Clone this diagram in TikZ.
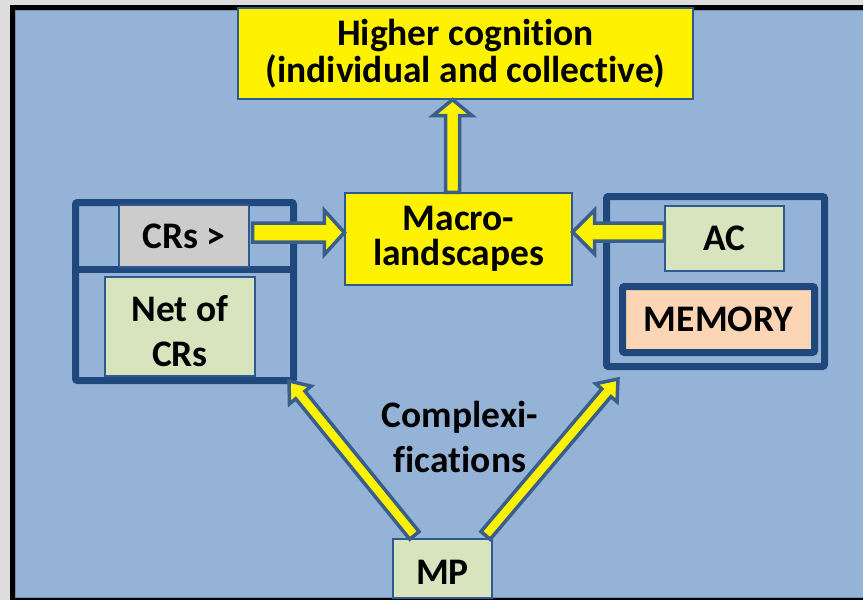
\documentclass[tikz,border=0pt]{standalone}
\usepackage{fontspec}
\setmainfont{Carlito}[Ligatures=NoCommon]
\usetikzlibrary{calc}
\definecolor{outgray}{HTML}{DDDDDD}
\definecolor{panel}{HTML}{95B3D7}
\definecolor{panelline}{HTML}{6E8DB5}
\definecolor{navy}{HTML}{1F497D}
\definecolor{boxline}{HTML}{2F5A8E}
\definecolor{arrowblue}{HTML}{3A5E8C}
\definecolor{crgray}{HTML}{CCCCCC}
\definecolor{lgreen}{HTML}{D7E4BD}
\definecolor{peach}{HTML}{FCD5B5}
\tikzset{
  txt/.style={font=\bfseries\fontsize{37.5}{38}\selectfont, align=center, text=black},
  box/.style={txt, draw=boxline, line width=1.2pt, inner sep=0pt},
  container/.style={draw=navy, line width=7pt, rounded corners=2pt, inner sep=0pt},
  blockarrow/.style n args={3}{draw=arrowblue, fill=yellow, line width=3.5pt, line join=miter,
    to path={let \p1=(\tikztostart), \p2=(\tikztotarget),
      \n1={atan2(\y2-\y1,\x2-\x1)}, \n2={veclen(\x2-\x1,\y2-\y1)} in
      ([shift={(\p1)},rotate=\n1]0pt,#1)
      -- ([shift={(\p1)},rotate=\n1]{\n2-#3},#1)
      -- ([shift={(\p1)},rotate=\n1]{\n2-#3},#2)
      -- ([shift={(\p1)},rotate=\n1]{\n2+0pt},0pt)
      -- ([shift={(\p1)},rotate=\n1]{\n2-#3},-#2)
      -- ([shift={(\p1)},rotate=\n1]{\n2-#3},-#1)
      -- ([shift={(\p1)},rotate=\n1]0pt,-#1) -- cycle}}
}
\begin{document}
\begin{tikzpicture}[x=1pt,y=-1pt]
\useasboundingbox (0,0) rectangle (863,600);
% frame
\fill[outgray] (0,0) rectangle (863,600);
\fill[black] (9.5,4.7) rectangle (870,605);
\fill[panel] (15,10) rectangle (870,598);
\draw[panelline, line width=0.8pt] (15.4,10.4) rectangle (870,597.6);

% containers
\node[container, minimum width=218pt, minimum height=178pt] (leftc) at (184.5,291.5) {};
\coordinate (divy) at (0,269);
\draw[navy, line width=7pt] (leftc.west |- divy) -- (leftc.east |- divy);
\node[container, minimum width=218pt, minimum height=170pt] (rightc) at (715.5,281.5) {};

% boxes
\node[box, fill=yellow, minimum width=455pt, minimum height=91pt] (hc) at (465.5,53.5)
  {Higher cognition\\[-1pt](individual and collective)};
\node[box, fill=yellow, minimum width=227pt, minimum height=92pt] (macro) at (458.5,239)
  {Macro-\\[-3pt]landscapes};
\node[box, fill=crgray, minimum width=130pt, minimum height=62pt] (crs) at (184,236) {CRs >};
\node[box, fill=lgreen, minimum width=150pt, minimum height=99pt,
  label={[txt, yshift=-5pt]center:{Net of\\[7pt]CRs}}] (net) at (180,326.5) {};
\node[box, fill=lgreen, minimum width=119pt, minimum height=65pt] (ac) at (724.5,238.5) {AC};
\node[txt, draw=navy, line width=7pt, fill=peach, rounded corners=2pt, inner sep=0pt,
  minimum width=192pt, minimum height=66pt] (mem) at (718.5,319.5) {MEMORY};
\node[box, fill=lgreen, minimum width=99pt, minimum height=59pt,
  label={[txt, yshift=-4pt]center:MP}] (mp) at (442.5,568.5) {};
\node[txt] (cx) at (460,437) {Complexi-\\[7pt]fications};

% arrows
\coordinate (s1) at ($(crs.east)+(3,-3.5)$);
\draw[blockarrow={9.5pt}{22pt}{20pt}] (s1) to (macro.west |- s1);
\coordinate (s2) at ($(ac.west)+(0,-6.5)$);
\draw[blockarrow={9pt}{22pt}{22pt}] (s2) to (macro.east |- s2);
\coordinate (s3) at ($(macro.north)+(-6,0)$);
\draw[blockarrow={7pt}{19.5pt}{16pt}] (s3) to (hc.south -| s3);
\coordinate (s4) at ($(mp.north west)+(22,-3)$);
\draw[blockarrow={6pt}{14pt}{18pt}] (s4) to ($(leftc.south east)+(-8,-3)$);
\coordinate (s5) at ($(mp.north east)+(-7,-3)$);
\draw[blockarrow={6pt}{14pt}{18pt}] (s5) to ($(rightc.south west)+(15,9)$);
\end{tikzpicture}
\end{document}
